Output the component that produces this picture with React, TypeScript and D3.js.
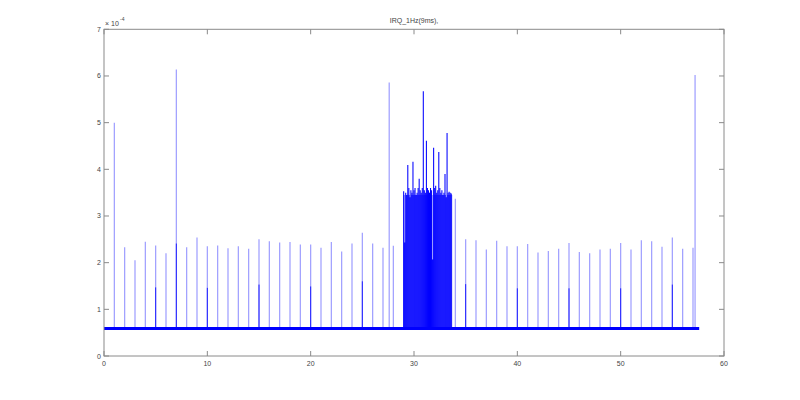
import React from "react";
import * as d3 from "d3";

const title = "IRQ_1Hz(9ms),";
const xTicks = [0, 10, 20, 30, 40, 50, 60];
const yTicks = [0, 1, 2, 3, 4, 5, 6, 7];

// regular once-per-second interrupt spikes (units of 1e-4)
const spikeTimes = [1, 2, 3, 4, 5, 6, 7, 8, 9, 10, 11, 12, 13, 14, 15, 16, 17, 18, 19, 20, 21, 22, 23, 24, 25, 26, 27, 27.6, 28,
  34, 35, 36, 37, 38, 39, 40, 41, 42, 43, 44, 45, 46, 47, 48, 49, 50, 51, 52, 53, 54, 55, 56, 57, 57.2];
const spikeValues = [5.0, 2.33, 2.05, 2.45, 2.37, 2.2, 6.14, 2.33, 2.54, 2.35, 2.37, 2.31, 2.35, 2.3, 2.5, 2.46, 2.43, 2.44, 2.39, 2.39, 2.32, 2.44, 2.24, 2.41, 2.64, 2.41, 2.32, 5.86, 2.36,
  3.37, 2.5, 2.48, 2.28, 2.47, 2.35, 2.35, 2.4, 2.22, 2.25, 2.3, 2.42, 2.23, 2.2, 2.28, 2.3, 2.42, 2.28, 2.48, 2.46, 2.34, 2.54, 2.3, 2.32, 6.02];

// darker lower portion of some spikes
const darkTimes = [5, 7, 10, 15, 20, 25, 35, 40, 45, 50, 55];
const darkValues = [1.47, 2.41, 1.46, 1.53, 1.49, 1.6, 1.54, 1.45, 1.45, 1.45, 1.53];

// dense burst between ~29 s and ~33.6 s
const burstStart = 29.0;
const burstStep = 0.1;
const burstValues = [3.53, 2.43, 3.5, 3.45, 4.09, 3.6, 3.4, 3.55, 3.5, 4.16, 3.55, 3.6, 3.45, 3.5, 3.6, 3.8, 3.55, 3.5, 3.6, 5.67,
  3.55, 3.5, 4.61, 3.6, 3.55, 3.5, 3.6, 3.55, 2.07, 4.46, 3.6, 3.65, 3.5, 3.55, 4.37, 3.6, 3.5, 3.55, 3.45, 3.5, 3.9, 3.4, 4.78,
  3.5, 3.52, 3.5, 3.48];

const baselineLevel = 0.59;
const baselineEnd = 57.6;

const W = 800, H = 400;
const M = { left: 104, right: 724, top: 29.3, bottom: 356 };

export default function App() {
  const x = d3.scaleLinear().domain([0, 60]).range([M.left, M.right]);
  const y = d3.scaleLinear().domain([0, 7]).range([M.bottom, M.top]);
  const axisColor = "#8a8a8a";
  const textColor = "#444";
  const font = "'Liberation Sans', Arial, sans-serif";
  const tick = 5;

  const line = d3.line<[number, number]>().x(d => x(d[0])).y(d => y(d[1]));

  return (
    <svg width={W} height={H} style={{ position: "absolute", left: 0, top: 0, background: "#fff" }} fontFamily={font}>
      <rect x={0} y={0} width={W} height={H} fill="#fff" />
      <rect x={M.left} y={M.top} width={M.right - M.left} height={M.bottom - M.top} fill="#fff" />
      {/* regular spikes */}
      {spikeTimes.map((t, i) => (
        <line key={"s" + i} x1={x(t)} x2={x(t)} y1={y(baselineLevel)} y2={y(spikeValues[i])}
          stroke="#9c9cff" strokeWidth={1.2} />
      ))}
      {darkTimes.map((t, i) => (
        <line key={"d" + i} x1={x(t)} x2={x(t)} y1={y(baselineLevel)} y2={y(darkValues[i])}
          stroke="#2020ff" strokeWidth={1} />
      ))}
      {/* burst */}
      {burstValues.map((v, i) => {
        const t = burstStart + i * burstStep;
        return (
          <line key={"b" + i} x1={x(t)} x2={x(t)} y1={y(baselineLevel)} y2={y(v)}
            stroke="#0000ff" strokeWidth={1.05} />
        );
      })}
      {burstValues.map((v, i) => {
        const t = burstStart + i * burstStep;
        return (
          <line key={"bl" + i} x1={x(t) + 0.5} x2={x(t) + 0.5} y1={y(baselineLevel)} y2={y(Math.min(v, 3.45))}
            stroke="#0000ff" strokeWidth={0.6} />
        );
      })}
      {/* baseline */}
      <path d={line([[0, baselineLevel], [baselineEnd, baselineLevel]]) || ""} stroke="#0000ff" strokeWidth={3} fill="none" />
      {/* axes box */}
      <rect x={M.left} y={M.top} width={M.right - M.left} height={M.bottom - M.top} fill="none" stroke={axisColor} strokeWidth={1} />
      {xTicks.map(t => (
        <g key={"xt" + t}>
          <line x1={x(t)} x2={x(t)} y1={M.bottom} y2={M.bottom - tick} stroke={axisColor} />
          <line x1={x(t)} x2={x(t)} y1={M.top} y2={M.top + tick} stroke={axisColor} />
          <text x={x(t)} y={M.bottom + 10} fontSize={7} fill={textColor} textAnchor="middle">{t}</text>
        </g>
      ))}
      {yTicks.map(t => (
        <g key={"yt" + t}>
          <line x1={M.left} x2={M.left + tick} y1={y(t)} y2={y(t)} stroke={axisColor} />
          <line x1={M.right} x2={M.right - tick} y1={y(t)} y2={y(t)} stroke={axisColor} />
          <text x={M.left - 3} y={y(t) + 2.5} fontSize={7} fill={textColor} textAnchor="end">{t}</text>
        </g>
      ))}
      <text x={M.left + 1} y={M.top - 3} fontSize={7} fill={textColor}>× 10</text>
      <text x={M.left + 16} y={M.top - 8} fontSize={5} fill={textColor}>-4</text>
      <text x={(M.left + M.right) / 2} y={M.top - 6} fontSize={7} fill={textColor} textAnchor="middle">{title}</text>
    </svg>
  );
}
